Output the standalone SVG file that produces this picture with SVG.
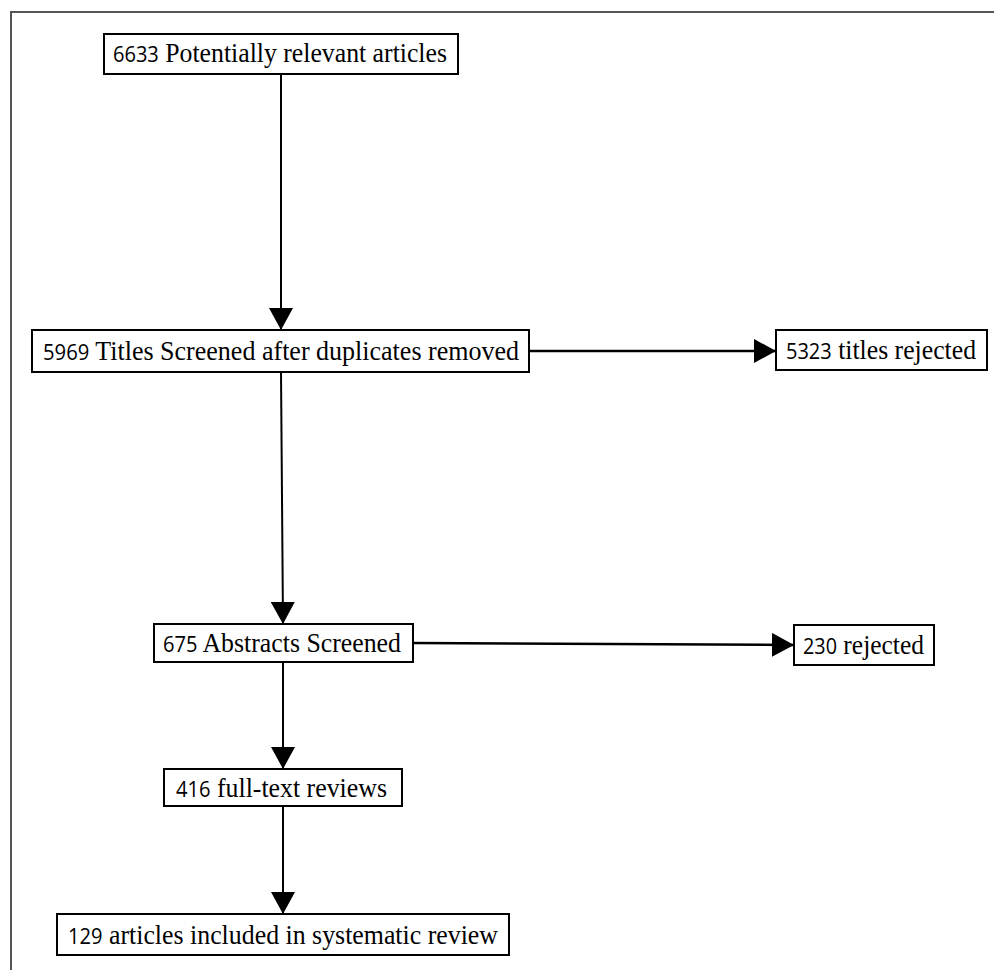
<svg xmlns="http://www.w3.org/2000/svg" width="994" height="970" viewBox="0 0 994 970">
<defs>
<style>
.box{fill:#fff;stroke:#000;stroke-width:2}
.lbl{font-family:"Liberation Serif","Times New Roman",serif;font-size:27px;fill:#000}
.num{font-family:"Open Sans","DejaVu Sans",sans-serif;font-size:21px}
.edge{stroke:#000;stroke-width:2;fill:none}
.frame{fill:none;stroke:#555;stroke-width:2}
</style>
<marker id="ah" viewBox="0 0 22 24" refX="22" refY="12" markerWidth="22" markerHeight="24" markerUnits="userSpaceOnUse" orient="auto">
<path d="M0,0 L22,12 L0,24 Z" fill="#000"/>
</marker>
</defs>
<rect width="994" height="970" fill="#fff"/>
<rect class="frame" x="11" y="12" width="1000" height="980"/>
<g id="connectors">
<line class="edge" x1="281" y1="74" x2="281" y2="330" marker-end="url(#ah)"/>
<line class="edge" x1="529" y1="351" x2="776" y2="351" marker-end="url(#ah)" style="stroke-width:2.5"/>
<line class="edge" x1="281" y1="372" x2="283" y2="624" marker-end="url(#ah)"/>
<line class="edge" x1="413" y1="643" x2="794" y2="645" marker-end="url(#ah)" style="stroke-width:2.5"/>
<line class="edge" x1="283" y1="662" x2="283" y2="769" marker-end="url(#ah)"/>
<line class="edge" x1="283" y1="806" x2="283" y2="914" marker-end="url(#ah)"/>
</g>
<g id="n1">
<rect class="box" x="104" y="34" width="354" height="40"/>
<text class="lbl" x="113" y="62" textLength="334" lengthAdjust="spacingAndGlyphs"><tspan class="num">6633</tspan> Potentially relevant articles</text>
</g>
<g id="n2">
<rect class="box" x="32" y="330" width="497" height="42"/>
<text class="lbl" x="43" y="360" textLength="476" lengthAdjust="spacingAndGlyphs"><tspan class="num">5969</tspan> Titles Screened after duplicates removed</text>
</g>
<g id="n3">
<rect class="box" x="776" y="330" width="211" height="40"/>
<text class="lbl" x="786" y="359" textLength="190" lengthAdjust="spacingAndGlyphs"><tspan class="num">5323</tspan> titles rejected</text>
</g>
<g id="n4">
<rect class="box" x="154" y="624" width="259" height="38"/>
<text class="lbl" x="163" y="652" textLength="238" lengthAdjust="spacingAndGlyphs"><tspan class="num">675</tspan> Abstracts Screened</text>
</g>
<g id="n5">
<rect class="box" x="794" y="625" width="140" height="40"/>
<text class="lbl" x="803" y="654" textLength="121" lengthAdjust="spacingAndGlyphs"><tspan class="num">230</tspan> rejected</text>
</g>
<g id="n6">
<rect class="box" x="164" y="769" width="238" height="37"/>
<text class="lbl" x="176" y="797" textLength="211" lengthAdjust="spacingAndGlyphs"><tspan class="num">416</tspan> full-text reviews</text>
</g>
<g id="n7">
<rect class="box" x="57" y="914" width="452" height="41"/>
<text class="lbl" x="68" y="944" textLength="430" lengthAdjust="spacingAndGlyphs"><tspan class="num">129</tspan> articles included in systematic review</text>
</g>
</svg>
